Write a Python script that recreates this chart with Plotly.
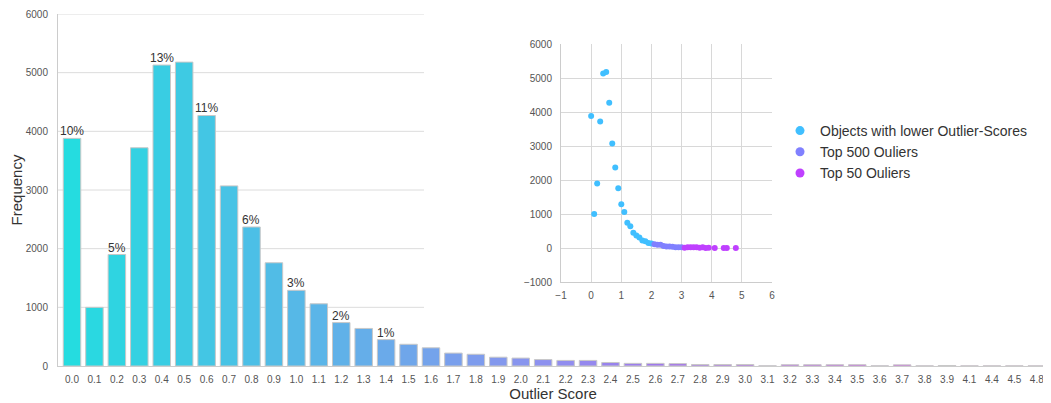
import colorsys
import plotly.graph_objects as go

# ---------------- data ----------------
score_labels = ["0.0", "0.1", "0.2", "0.3", "0.4", "0.5", "0.6", "0.7", "0.8", "0.9",
                "1.0", "1.1", "1.2", "1.3", "1.4", "1.5", "1.6", "1.7", "1.8", "1.9",
                "2.0", "2.1", "2.2", "2.3", "2.4", "2.5", "2.6", "2.7", "2.8", "2.9",
                "3.0", "3.1", "3.2", "3.3", "3.4", "3.5", "3.6", "3.7", "3.8", "3.9",
                "4.1", "4.4", "4.5", "4.8"]
frequency = [3880, 1000, 1900, 3720, 5130, 5180, 4270, 3070, 2370, 1760,
             1290, 1060, 740, 640, 450, 370, 310, 220, 200, 150,
             135, 110, 95, 95, 60, 45, 45, 40, 25, 25,
             25, 4, 22, 22, 22, 22, 4, 20, 3, 8,
             3, 3, 3, 3]
labelled_bins = ["0.0", "0.2", "0.4", "0.6", "0.8", "1.0", "1.2", "1.4"]

group_names = ["Objects with lower Outlier-Scores", "Top 500 Ouliers", "Top 50 Ouliers"]
group_bounds = [(0.0, 2.05), (2.05, 3.05), (3.05, 5.0)]

main_yticks = [0, 1000, 2000, 3000, 4000, 5000, 6000]
inset_xticks = [-1, 0, 1, 2, 3, 4, 5, 6]
inset_yticks = [-1000, 0, 1000, 2000, 3000, 4000, 5000, 6000]

# ---------------- colours ----------------
def cool(t):
    return (t, 1 - t, 1.0)

def desat(rgb, p):
    h, l, s = colorsys.rgb_to_hls(*rgb)
    return colorsys.hls_to_rgb(h, l, s * p)

def to_hex(rgb):
    return "#%02x%02x%02x" % tuple(int(round(c * 255)) for c in rgb)

n = len(score_labels)
bar_colors = [to_hex(desat(cool((i + 1) / (n + 1)), 0.75)) for i in range(n)]
group_colors = [to_hex(cool(t)) for t in (0.25, 0.5, 0.75)]

total = sum(frequency)

fig = go.Figure()
fig.add_trace(go.Bar(
    x=score_labels, y=frequency,
    marker=dict(color=bar_colors, line=dict(color="#c8c8c8", width=1)),
    width=0.78,
    showlegend=False, xaxis="x", yaxis="y",
))

annotations = []
for i, (lab, f) in enumerate(zip(score_labels, frequency)):
    if lab in labelled_bins:
        annotations.append(dict(
            x=i, y=f, xref="x", yref="y", text="%d%%" % round(100 * f / total),
            showarrow=False, yanchor="bottom", yshift=-2,
            font=dict(size=12, color="#333333", family="Liberation Sans, Arial"),
        ))

xs_num = [float(s) for s in score_labels]
for name, (lo, hi), col in zip(group_names, group_bounds, group_colors):
    gx = [x for x in xs_num if lo <= x < hi]
    gy = [f for x, f in zip(xs_num, frequency) if lo <= x < hi]
    fig.add_trace(go.Scatter(
        x=gx, y=gy, mode="markers", name=name,
        marker=dict(color=col, size=6),
        xaxis="x2", yaxis="y2", showlegend=False,
    ))
    # legend entry with a slightly larger marker
    fig.add_trace(go.Scatter(
        x=[None], y=[None], mode="markers", name=name,
        marker=dict(color=col, size=9),
        xaxis="x2", yaxis="y2", showlegend=True,
    ))

# The page body adds an 8px offset; size the figure to fill the window.
OFF = 8
W, H = 1051 - OFF, 403 - OFF
L, R, T, B = 58 - OFF, 3, 14 - OFF, 37
pw = W - L - R
ph = H - T - B

def px_x(px):
    return (px - 58) / pw

def px_y(py):
    return (366 - py) / ph

grid_end = px_x(424)
shapes = []
for v in main_yticks[1:]:
    shapes.append(dict(type="line", xref="paper", yref="y", x0=0, x1=grid_end,
                       y0=v, y1=v, line=dict(color="#dcdcdc", width=1), layer="below"))

inset_x = [px_x(561), px_x(772)]
inset_y = [px_y(282), px_y(44)]

tickfont = dict(size=10, color="#555555", family="Liberation Sans, Arial")

fig.update_layout(
    width=W, height=H,
    margin=dict(l=L, r=R, t=T, b=B, autoexpand=False),
    plot_bgcolor="white", paper_bgcolor="white",
    font=dict(family="Liberation Sans, Arial", color="#333333"),
    shapes=shapes, annotations=annotations,
    xaxis=dict(
        domain=[0, 1], type="category", tickfont=tickfont, showgrid=False,
        showline=True, linecolor="#cccccc", linewidth=1, ticks="",
        ticklabelstandoff=4, automargin=False,
        title=dict(text="Outlier Score", font=dict(size=15, color="#333333"), standoff=2),
    ),
    yaxis=dict(
        domain=[0, 1], range=[0, 6000], tickvals=main_yticks, tickfont=tickfont,
        showgrid=False, zeroline=False, showline=True, linecolor="#cccccc",
        linewidth=1, ticks="", ticklabelstandoff=7, automargin=False,
        title=dict(text="Frequency", font=dict(size=15, color="#333333"), standoff=13),
    ),
    xaxis2=dict(
        domain=inset_x, anchor="y2", range=[-1, 6], tickvals=inset_xticks,
        tickfont=tickfont, showgrid=True, gridcolor="#d8d8d8", zeroline=False,
        showline=True, linecolor="#cccccc", ticks="", ticklabelstandoff=4,
        automargin=False,
    ),
    yaxis2=dict(
        domain=inset_y, anchor="x2", range=[-1000, 6000], tickvals=inset_yticks,
        tickfont=tickfont, showgrid=True, gridcolor="#d8d8d8", zeroline=False,
        showline=True, linecolor="#cccccc", ticks="", ticklabelstandoff=6,
        automargin=False,
    ),
    legend=dict(
        x=px_x(780), y=px_y(115), xanchor="left", yanchor="top",
        font=dict(size=14, color="#333333", family="Liberation Sans, Arial"),
        bgcolor="rgba(0,0,0,0)", itemwidth=30, tracegroupgap=0,
    ),
)

fig.write_html("out.html")
